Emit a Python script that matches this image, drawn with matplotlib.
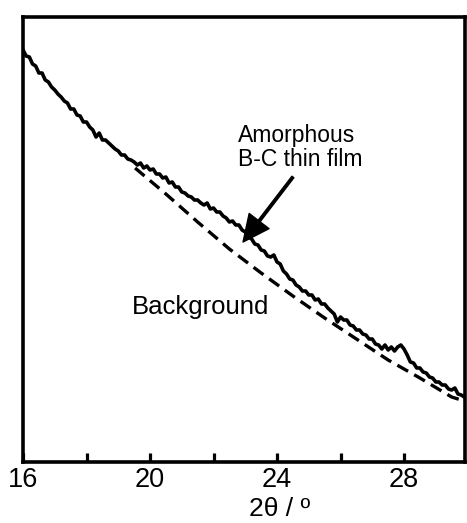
import numpy as np
import matplotlib
matplotlib.use("Agg")
import matplotlib.pyplot as plt

plt.rcParams['font.family'] = ['Liberation Sans', 'DejaVu Sans']

# ---- data ----
two_theta_start = 16.0
two_theta_step = 0.1
film_intensity = [
    412, 406, 405, 398, 396, 389, 389, 382, 380, 375,
    372, 368, 365, 361, 359, 353, 353, 347, 346, 340,
    340, 335, 332, 325, 329, 322, 322, 319, 316, 313,
    311, 307, 307, 303, 302, 300, 297, 299, 294, 296,
    292, 293, 288, 288, 284, 285, 279, 280, 275, 275,
    270, 269, 266, 265, 262, 262, 259, 257, 259, 253,
    254, 250, 250, 246, 244, 240, 241, 237, 237, 232,
    230, 225, 223, 218, 217, 212, 211, 206, 205, 207,
    200, 198, 191, 188, 183, 182, 177, 175, 171, 171,
    167, 167, 162, 163, 158, 158, 154, 151, 148, 140,
    145, 142, 142, 137, 136, 132, 132, 128, 127, 123,
    123, 118, 117, 113, 117, 112, 115, 111, 115, 117,
    113, 107, 100, 99, 94, 94, 90, 89, 85, 84,
    80, 80, 77, 77, 73, 72, 74, 68, 67, 65,
]
film_two_theta = [round(two_theta_start + i * two_theta_step, 1) for i in range(len(film_intensity))]

background_two_theta = [19.53, 20.5, 21.5, 22.5, 23.5, 24.5, 25.5, 26.5, 27.5, 28.5, 29.5, 29.9]
background_intensity = [294, 268, 240, 213, 189, 166, 144, 123, 102, 84, 65, 61]

major_ticks = [16, 20, 24, 28]
minor_ticks = [18, 22, 26]
x_label = "2θ / º"
film_label = "Amorphous\nB-C thin film"
background_label = "Background"

# ---- figure ----
W, H = 467, 523
fig = plt.figure(figsize=(W / 100, H / 100), dpi=100)
ax = fig.add_axes([23 / W, 61 / H, 442 / W, 445 / H])

ax.plot(film_two_theta, film_intensity, color='black', lw=2.6, solid_joinstyle='round')
ax.plot(background_two_theta, background_intensity, color='black', lw=2.4,
        dashes=[3.7, 2.1])

ax.set_xlim(16, 29.92)
ax.set_ylim(0, 445)

for s in ax.spines.values():
    s.set_linewidth(2.6)

ax.set_xticks(major_ticks)
ax.set_xticklabels([str(t) for t in major_ticks])
ax.set_xticks(minor_ticks, minor=True)
ax.tick_params(axis='x', which='both', direction='in', length=6.5, width=2.3,
               labelsize=19.5, pad=3.5, top=False)
ax.set_yticks([])

ax.set_xlabel(x_label, fontsize=19, va='top')
ax.xaxis.set_label_coords(0.581, -0.078)

ax.text(22.77, 296, film_label, fontsize=16.5, ha='left', va='baseline',
        linespacing=1.05)
ax.text(19.43, 148, background_label, fontsize=18.5, ha='left', va='baseline')

ax.annotate('', xy=(22.93, 220), xytext=(24.50, 285),
            arrowprops=dict(facecolor='black', edgecolor='black', width=1.8,
                            headwidth=18, headlength=19, shrink=0))

fig.savefig('out.png', dpi=100)
